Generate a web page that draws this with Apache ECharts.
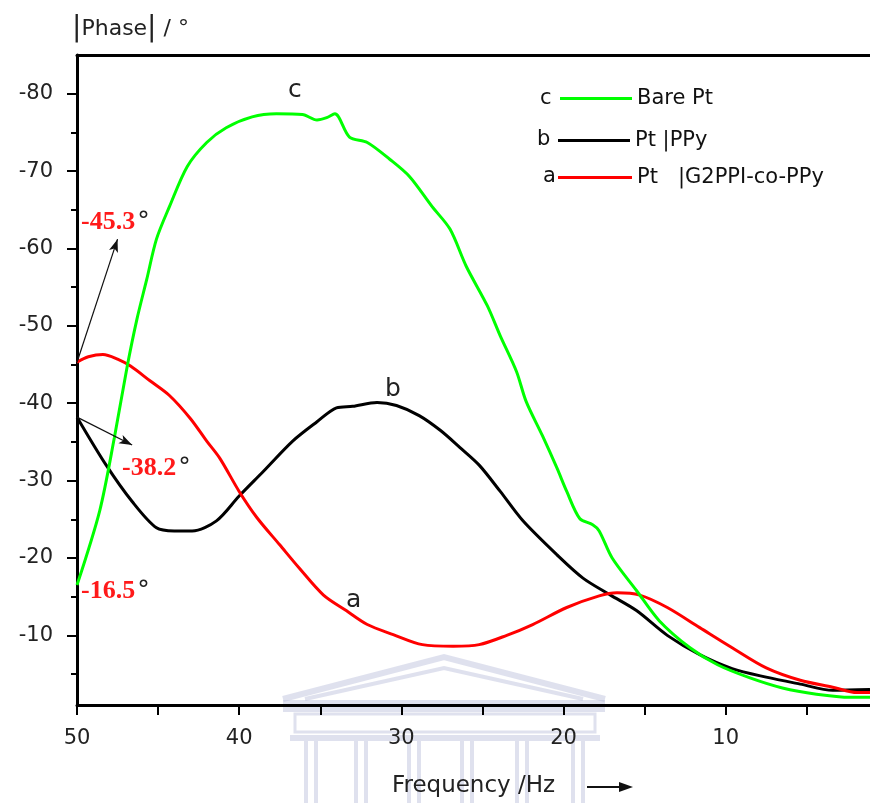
<!DOCTYPE html>
<html><head><meta charset="utf-8">
<script src="https://cdn.jsdelivr.net/npm/echarts@6/dist/echarts.min.js"></script>
<style>html,body{margin:0;padding:0;background:#fff}#c{width:870px;height:803px}</style>
</head><body><div id="c"></div>
<script>
// ---- data (|phase| in degrees vs frequency in Hz) ----
const freqC  = [50, 48.6, 47.7, 46.9, 46.3, 45.7, 45.1, 44.3, 43.2, 42.0, 40.8, 39.2, 37.7, 36.1, 35.2, 34.6, 34.1, 33.2, 32.1, 30.7, 29.5, 28.1, 27.0, 26.0, 24.7, 23.9, 22.9, 22.3, 21.3, 20.4, 19.8, 19.0, 18.2, 17.8, 17.0, 15.5, 14.1, 12.2, 10.5, 8.5, 6.5, 4.4, 2.3, 1.1];
const phaseC = [16.5, 26.1, 35.5, 44.8, 50.9, 56.0, 61.2, 65.4, 70.6, 73.7, 75.6, 77.0, 77.4, 77.3, 76.6, 76.9, 77.4, 74.4, 73.7, 71.5, 69.3, 65.4, 62.5, 57.7, 52.6, 48.7, 44.1, 40.2, 35.8, 31.6, 28.6, 25.1, 24.3, 23.5, 20.0, 15.8, 11.9, 8.4, 6.2, 4.5, 3.2, 2.4, 2.0, 2.0];
const freqB  = [50, 48.2, 46.6, 45.1, 44.0, 42.9, 41.4, 40.0, 38.5, 36.7, 35.2, 34.0, 33.0, 31.5, 30.3, 28.9, 27.6, 26.4, 25.2, 23.9, 22.5, 20.4, 18.8, 17.1, 15.5, 13.6, 11.6, 9.6, 7.5, 5.4, 3.4, 1.1];
const phaseB = [38.2, 32.0, 27.3, 23.9, 23.5, 23.5, 24.8, 28.0, 31.2, 35.1, 37.6, 39.4, 39.6, 40.1, 39.7, 38.4, 36.5, 34.3, 32.0, 28.6, 24.8, 20.4, 17.4, 15.2, 13.2, 10.0, 7.5, 5.7, 4.6, 3.7, 2.9, 3.0];
const freqA  = [50, 49.3, 48.4, 47.5, 46.7, 45.5, 44.3, 43.0, 42.0, 41.2, 40.0, 38.9, 37.5, 36.3, 34.8, 33.4, 32.1, 30.5, 28.7, 26.8, 25.2, 23.5, 21.9, 19.8, 17.8, 16.7, 15.3, 13.6, 11.6, 9.6, 7.5, 5.4, 3.4, 1.9, 1.1];
const phaseA = [45.3, 46.0, 46.3, 45.7, 44.8, 42.9, 41.0, 38.0, 35.1, 32.9, 28.6, 25.2, 21.7, 18.7, 15.2, 13.2, 11.4, 10.1, 8.8, 8.6, 8.8, 10.0, 11.4, 13.6, 15.1, 15.5, 15.2, 13.6, 11.0, 8.4, 5.8, 4.2, 3.3, 2.6, 2.6];
const seriesNames = ['Bare Pt', 'Pt |PPy', 'Pt   |G2PPI-co-PPy'];
const seriesLetters = ['c', 'b', 'a'];
const xLabelValues = [10, 20, 30, 40, 50];
const xTickValues  = [5, 10, 15, 20, 25, 30, 35, 40, 45, 50];
const yLabelValues = [10, 20, 30, 40, 50, 60, 70, 80];
const yMinorValues = [5, 15, 25, 35, 45, 55, 65, 75];
const arrowA = [[50, 45.3], [47.5, 61.2]];
const arrowB = [[50, 38.2], [46.6, 34.6]];
const noteTexts = ['-45.3', '-38.2', '-16.5'];

const zip = (f, p) => f.map((x, i) => [x, p[i]]);
const FONT = 'DejaVu Sans';
const chart = echarts.init(document.getElementById('c'));

const lineSeries = (name, data, color, extra) => Object.assign({
  type: 'line', name, data, symbol: 'none', smooth: 0.3,
  lineStyle: { color, width: 3 }, itemStyle: { color }, animation: false, z: 3
}, extra || {});

const arrowMark = (pts) => ({
  silent: true, animation: false, symbol: ['none', 'arrow'], symbolSize: [7, 13],
  lineStyle: { color: '#111', width: 1.2, type: 'solid' }, label: { show: false },
  data: [[{ coord: pts[0] }, { coord: pts[1] }]]
});

const legendRow = (name, top, left, w) => ({
  data: [name], left, top, orient: 'vertical', icon: 'rect', itemWidth: w, itemHeight: 3,
  padding: 0, selectedMode: false,
  textStyle: { fontFamily: FONT, fontSize: 21, color: '#111' }
});

const wmColor = 'rgba(175,180,212,0.40)';
const watermark = {
  type: 'group', z: -10, silent: true, children: [
    { type: 'polyline', shape: { points: [[283, 699], [444, 657], [605, 699]] }, style: { stroke: wmColor, lineWidth: 6, fill: null } },
    { type: 'polyline', shape: { points: [[305, 699], [444, 668], [583, 699]] }, style: { stroke: wmColor, lineWidth: 4, fill: null } },
    { type: 'rect', shape: { x: 283, y: 700, width: 322, height: 12 }, style: { fill: wmColor } },
    { type: 'rect', shape: { x: 295, y: 714, width: 300, height: 18 }, style: { fill: 'none', stroke: wmColor, lineWidth: 3 } },
    { type: 'rect', shape: { x: 290, y: 735, width: 310, height: 6 }, style: { fill: wmColor } },
  ].concat([311, 361, 414, 467, 522, 578].reduce((acc, cx) => acc.concat([
    { type: 'rect', shape: { x: cx - 7, y: 741, width: 4, height: 62 }, style: { fill: wmColor } },
    { type: 'rect', shape: { x: cx + 3, y: 741, width: 4, height: 62 }, style: { fill: wmColor } }
  ]), []))
};

const noteText = (x, y, val) => ({
  type: 'text', x, y, z: 20, silent: true,
  style: {
    text: '{r|' + val + '}{d|°}', textVerticalAlign: 'middle',
    rich: {
      r: { fill: '#ff1a1a', fontFamily: 'Liberation Serif', fontWeight: 'bold', fontSize: 26 },
      d: { fill: '#222', fontFamily: FONT, fontSize: 25, padding: [0, 0, 0, 2] }
    }
  }
});

chart.setOption({
  animation: false,
  backgroundColor: '#fff',
  grid: { left: 77, right: 0, top: 55, bottom: 96, containLabel: false },
  xAxis: [{
    type: 'value', min: 1.1, max: 50, inverse: true, position: 'bottom',
    axisLine: { onZero: false, lineStyle: { color: '#000', width: 3 } },
    axisTick: { customValues: xTickValues, length: 10, lineStyle: { color: '#000', width: 2 } },
    axisLabel: { customValues: xLabelValues, margin: 23, fontFamily: FONT, fontSize: 21, color: '#222' },
    splitLine: { show: false },
    name: 'Frequency /Hz', nameLocation: 'middle', nameGap: 70,
    nameTextStyle: { fontFamily: FONT, fontSize: 23, color: '#222' }
  }, {
    type: 'value', min: 1.1, max: 50, inverse: true, position: 'top',
    axisLine: { onZero: false, lineStyle: { color: '#000', width: 3 } },
    axisTick: { show: false }, axisLabel: { show: false }, splitLine: { show: false }
  }],
  yAxis: [{
    type: 'value', min: 1, max: 85, position: 'left',
    axisLine: { show: true, onZero: false, lineStyle: { color: '#000', width: 3 } },
    axisTick: { customValues: yLabelValues, length: 10, lineStyle: { color: '#000', width: 2 } },
    axisLabel: { customValues: yLabelValues, margin: 24, formatter: v => '-' + v, fontFamily: FONT, fontSize: 21, color: '#222' },
    splitLine: { show: false }
  }, {
    type: 'value', min: 1, max: 85, position: 'left',
    axisLine: { show: false },
    axisTick: { show: true, customValues: yMinorValues, length: 6, lineStyle: { color: '#000', width: 2 } },
    axisLabel: { show: false }, splitLine: { show: false }
  }],
  legend: [
    legendRow(seriesNames[0], 88, 560, 72),
    legendRow(seriesNames[1], 130, 558, 72),
    legendRow(seriesNames[2], 167, 558, 74)
  ],
  series: [
    lineSeries(seriesNames[1], zip(freqB, phaseB), '#000000', { markLine: arrowMark(arrowB) }),
    lineSeries(seriesNames[2], zip(freqA, phaseA), '#ff0000', { markLine: arrowMark(arrowA) }),
    lineSeries(seriesNames[0], zip(freqC, phaseC), '#00ff00')
  ],
  graphic: [
    watermark,
    { type: 'text', x: 72, y: 29, silent: true, style: {
      text: '{bar||}{t|Phase}{bar||}{t| / }{deg|°}', textVerticalAlign: 'middle',
      rich: {
        bar: { fill: '#222', fontFamily: FONT, fontSize: 28 },
        t: { fill: '#222', fontFamily: FONT, fontSize: 22 },
        deg: { fill: '#222', fontFamily: FONT, fontSize: 22 }
      } } },
    { type: 'text', x: 540, y: 99, silent: true, style: { text: seriesLetters[0], fontFamily: FONT, fontSize: 21, fill: '#111', textVerticalAlign: 'middle' } },
    { type: 'text', x: 537, y: 140, silent: true, style: { text: seriesLetters[1], fontFamily: FONT, fontSize: 21, fill: '#111', textVerticalAlign: 'middle' } },
    { type: 'text', x: 543, y: 177, silent: true, style: { text: seriesLetters[2], fontFamily: FONT, fontSize: 21, fill: '#111', textVerticalAlign: 'middle' } },
    { type: 'text', x: 288, y: 90, silent: true, style: { text: seriesLetters[0], fontFamily: FONT, fontSize: 25, fill: '#222', textVerticalAlign: 'middle' } },
    { type: 'text', x: 385, y: 389, silent: true, style: { text: seriesLetters[1], fontFamily: FONT, fontSize: 25, fill: '#222', textVerticalAlign: 'middle' } },
    { type: 'text', x: 346, y: 600, silent: true, style: { text: seriesLetters[2], fontFamily: FONT, fontSize: 25, fill: '#222', textVerticalAlign: 'middle' } },
    noteText(81, 222, noteTexts[0]),
    noteText(122, 468, noteTexts[1]),
    noteText(81, 591, noteTexts[2]),
    { type: 'line', silent: true, shape: { x1: 587, y1: 787, x2: 622, y2: 787 }, style: { stroke: '#111', lineWidth: 2 } },
    { type: 'polygon', silent: true, shape: { points: [[619, 782], [633, 787], [619, 792]] }, style: { fill: '#111' } }
  ]
});
</script></body></html>
